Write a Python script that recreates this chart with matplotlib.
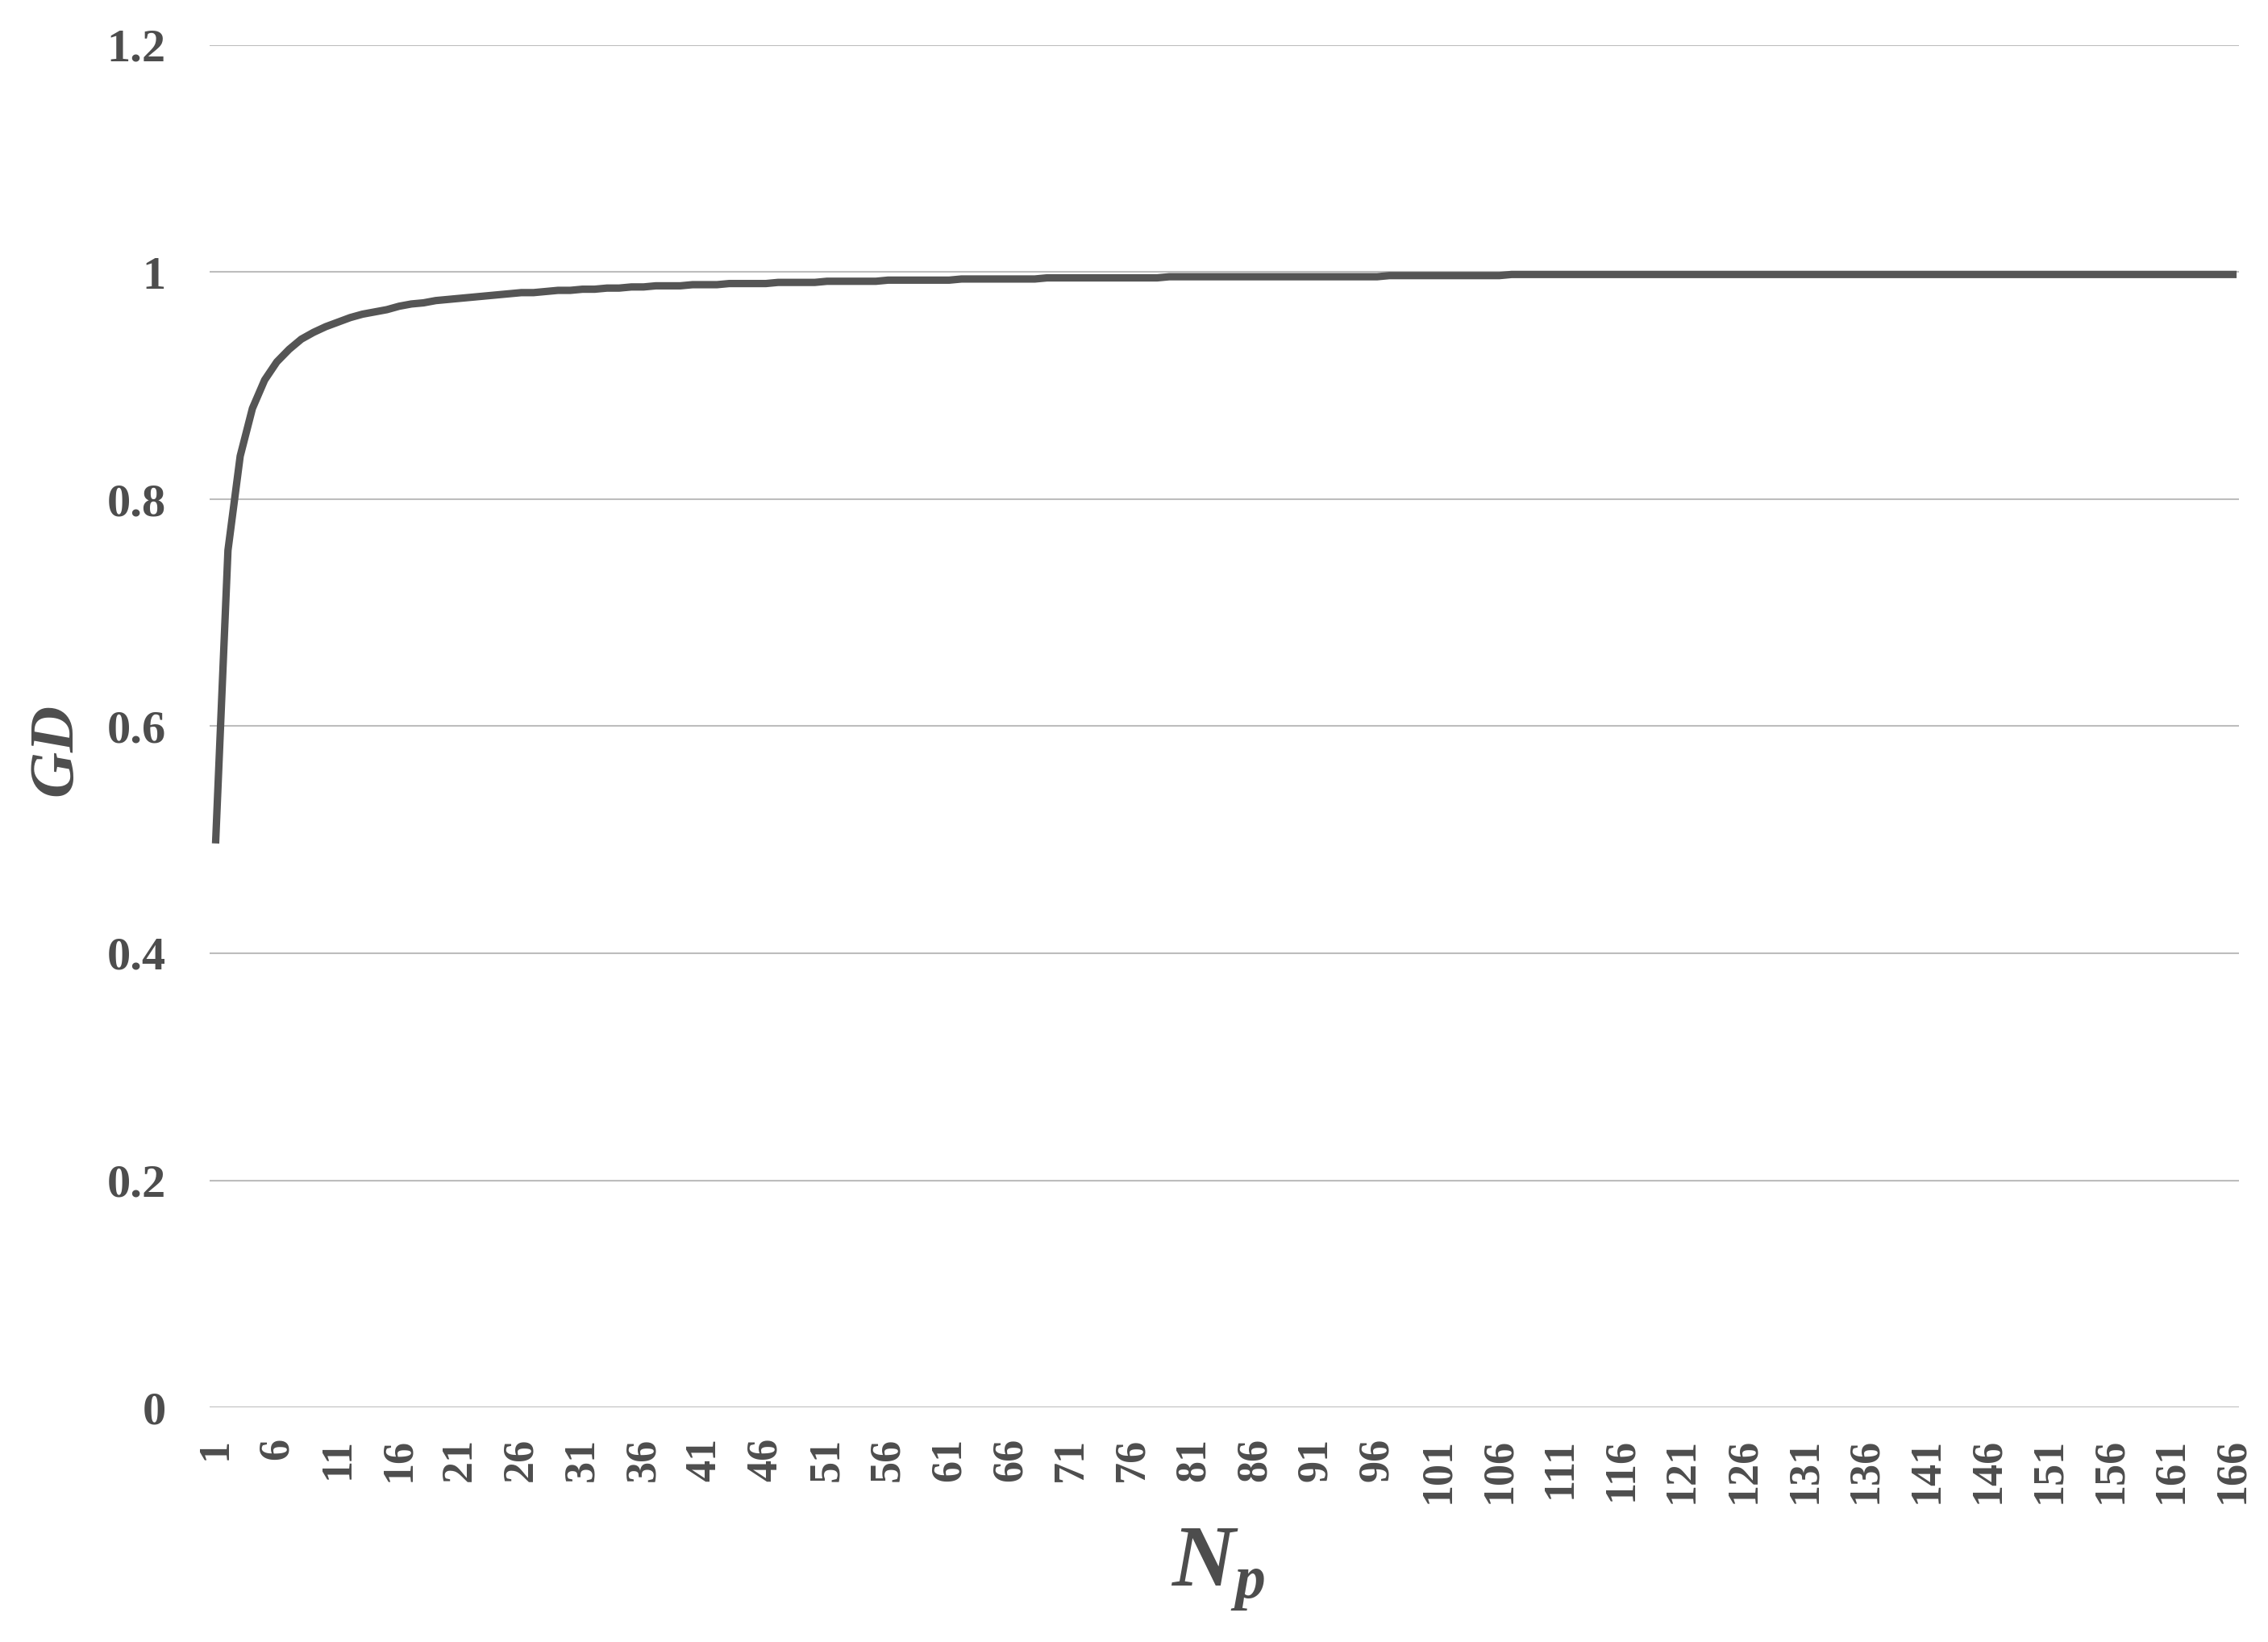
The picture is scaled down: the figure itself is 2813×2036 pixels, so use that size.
import matplotlib
matplotlib.use("Agg")
import matplotlib.pyplot as plt

plt.rcParams['font.family'] = ['Liberation Serif', 'DejaVu Serif']
plt.rcParams['mathtext.fontset'] = 'custom'
plt.rcParams['mathtext.it'] = 'Liberation Serif:italic:bold'
plt.rcParams['mathtext.rm'] = 'Liberation Serif:bold'

# Category numbers N_p = 1..166
categories = list(range(1, 167))

# GD values
gd_values = [
    0.500, 0.755, 0.838, 0.880, 0.905, 0.921, 0.932, 0.941, 0.947, 0.952,
    0.956, 0.960, 0.963, 0.965, 0.967, 0.970, 0.972, 0.973, 0.975, 0.976,
    0.977, 0.978, 0.979, 0.980, 0.981, 0.982, 0.982, 0.983, 0.984, 0.984,
    0.985, 0.985, 0.986, 0.986, 0.987, 0.987, 0.988, 0.988, 0.988, 0.989,
    0.989, 0.989, 0.990, 0.990, 0.990, 0.990, 0.991, 0.991, 0.991, 0.991,
    0.992, 0.992, 0.992, 0.992, 0.992, 0.993, 0.993, 0.993, 0.993, 0.993,
    0.993, 0.994, 0.994, 0.994, 0.994, 0.994, 0.994, 0.994, 0.995, 0.995,
    0.995, 0.995, 0.995, 0.995, 0.995, 0.995, 0.995, 0.995, 0.996, 0.996,
    0.996, 0.996, 0.996, 0.996, 0.996, 0.996, 0.996, 0.996, 0.996, 0.996,
    0.996, 0.996, 0.996, 0.996, 0.996, 0.996, 0.997, 0.997, 0.997, 0.997,
    0.997, 0.997, 0.997, 0.997, 0.997, 0.997, 0.998, 0.998, 0.998, 0.998,
    0.998, 0.998, 0.998, 0.998, 0.998, 0.998, 0.998, 0.998, 0.998, 0.998,
    0.998, 0.998, 0.998, 0.998, 0.998, 0.998, 0.998, 0.998, 0.998, 0.998,
    0.998, 0.998, 0.998, 0.998, 0.998, 0.998, 0.998, 0.998, 0.998, 0.998,
    0.998, 0.998, 0.998, 0.998, 0.998, 0.998, 0.998, 0.998, 0.998, 0.998,
    0.998, 0.998, 0.998, 0.998, 0.998, 0.998, 0.998, 0.998, 0.998, 0.998,
    0.998, 0.998, 0.998, 0.998, 0.998, 0.998,
]

y_ticks = [0, 0.2, 0.4, 0.6, 0.8, 1.0, 1.2]
y_tick_labels = ['0', '0.2', '0.4', '0.6', '0.8', '1', '1.2']
x_tick_values = categories[::5]
x_tick_labels = [str(v) for v in x_tick_values]

text_color = '#4d4d4d'

fig = plt.figure(figsize=(2813 / 300, 2036 / 300), dpi=300)
ax = fig.add_axes([260 / 2813, 1 - 1745 / 2036, (2777 - 260) / 2813, (1745 - 56) / 2036])

ax.plot(categories, gd_values, color='#555555', linewidth=2.2, solid_joinstyle='round', zorder=3)

ax.set_xlim(0.5, 166.5)
ax.set_ylim(0, 1.2)
ax.set_yticks(y_ticks)
ax.set_yticklabels(y_tick_labels)
ax.set_xticks(x_tick_values)
ax.set_xticklabels(x_tick_labels, rotation=90)

for lab in ax.get_yticklabels():
    lab.set_fontweight('bold')
    lab.set_fontsize(14)
    lab.set_color(text_color)
for lab in ax.get_xticklabels():
    lab.set_fontweight('bold')
    lab.set_fontsize(13)
    lab.set_color(text_color)

ax.tick_params(axis='y', length=0, pad=13)
ax.tick_params(axis='x', length=0, pad=9)

ax.grid(axis='y', color='#bdbdbd', linewidth=0.5, linestyle='-')
ax.set_axisbelow(True)
for s in ax.spines.values():
    s.set_visible(False)

fig.text(72 / 2813, 1 - 933 / 2036, r'$GD$', rotation=90, ha='center', va='center',
         fontsize=19, color=text_color)
fig.text(1510 / 2813, 1 - 1946 / 2036, r'$N_p$', ha='center', va='center',
         fontsize=26, color=text_color)

fig.savefig('out.png', dpi=300, facecolor='white')
